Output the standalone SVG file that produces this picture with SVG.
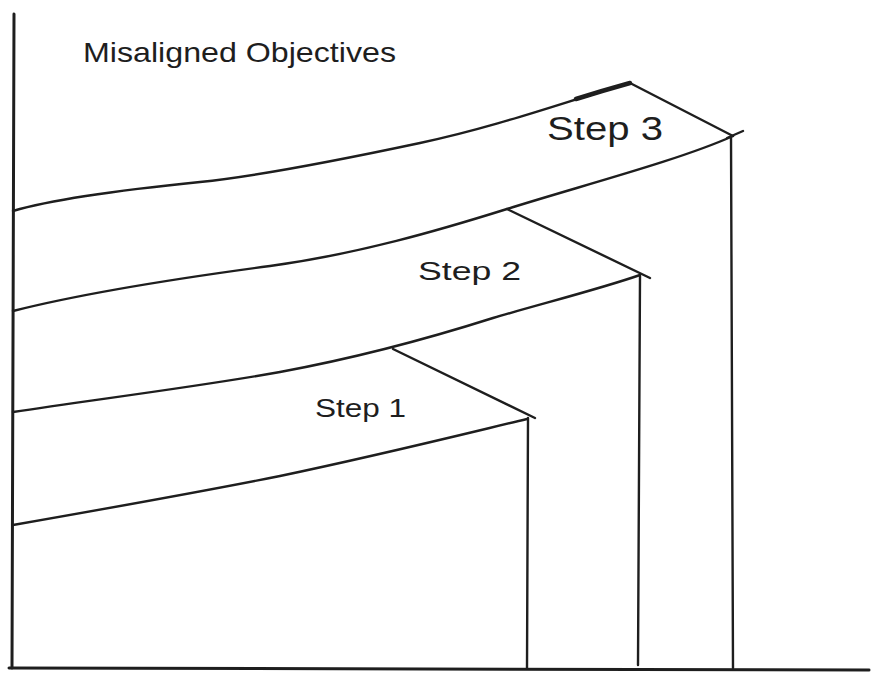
<svg xmlns="http://www.w3.org/2000/svg" width="885" height="684" viewBox="0 0 885 684">
  <style>
    .ln { fill: none; stroke: #1e1e1e; stroke-width: 2.4; stroke-linecap: round; stroke-linejoin: round; }
    .ax { fill: none; stroke: #1e1e1e; stroke-width: 3; stroke-linecap: round; }
    .tx { font-family: "Liberation Sans", "DejaVu Sans", sans-serif; fill: #1e1e1e; }
  </style>
  <rect x="0" y="0" width="885" height="684" fill="#ffffff"/>

  <g id="axes">
    <path class="ax" d="M14,14 L12,668"/>
    <path class="ax" d="M9,668 L869,670"/>
  </g>

  <g id="title">
    <text class="tx" x="83" y="62" font-size="28" textLength="313" lengthAdjust="spacingAndGlyphs">Misaligned Objectives</text>
  </g>

  <g id="step3">
    <path class="ln" d="M13,211 C60,197 140,188 200,182 C260,176 340,160 420,143 C500,126 570,100 630,83"/>
    <path class="ln" style="stroke-width:4.5" d="M576,99 C595,93 612,88 630,83"/>
    <path class="ln" d="M13,311 C80,294 180,278 270,266 C358,254 440,230 507,209 C580,186 680,160 733,136"/>
    <path class="ln" d="M630,83 L733,136"/>
    <path class="ln" d="M727,138 L743,131"/>
    <path class="ln" d="M731,136 L733,668"/>
    <text class="tx" x="547" y="140" font-size="34" textLength="116" lengthAdjust="spacingAndGlyphs">Step 3</text>
  </g>

  <g id="step2">
    <path class="ln" d="M13,412 C90,400 190,388 280,372 C350,359 430,338 493,318 C540,304 600,289 640,275"/>
    <path class="ln" d="M507,209 L650,278"/>
    <path class="ln" d="M640,276 L638,665"/>
    <text class="tx" x="418" y="280" font-size="26" textLength="103" lengthAdjust="spacingAndGlyphs">Step 2</text>
  </g>

  <g id="step1">
    <path class="ln" d="M13,525 C110,508 200,492 280,476 C380,455 460,435 527,419"/>
    <path class="ln" d="M393,349 L535,418"/>
    <path class="ln" d="M528,418 L527,668"/>
    <text class="tx" x="315" y="417" font-size="26" textLength="91" lengthAdjust="spacingAndGlyphs">Step 1</text>
  </g>
</svg>
